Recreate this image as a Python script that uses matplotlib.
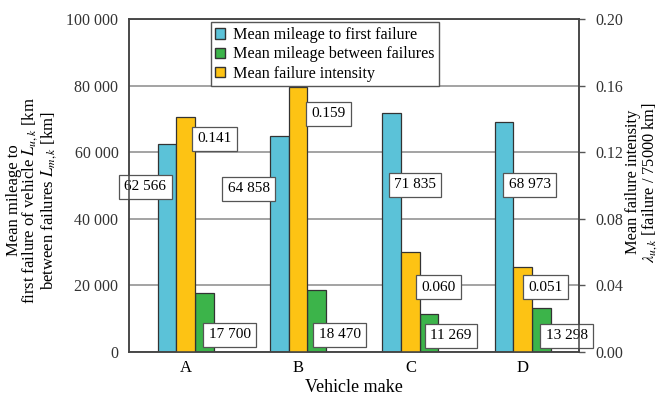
import numpy as np
import matplotlib.pyplot as plt
from matplotlib.ticker import FuncFormatter
from matplotlib.patches import Patch

plt.rcParams['font.family'] = ['Liberation Serif', 'DejaVu Serif']
plt.rcParams['mathtext.fontset'] = 'stix'

# Data
makes = ['A', 'B', 'C', 'D']
first_failure = [62566, 64858, 71835, 68973]      # km
between_failures = [17700, 18470, 11269, 13298]   # km
intensity = [0.141, 0.159, 0.060, 0.051]          # failure / 75000 km

# label placement (offset from group centre, y position)
blue_lbl_dx = [-0.36, -0.44, 0.04, 0.06]
blue_lbl_y = [49600, 49000, 50200, 50200]
yel_lbl_dx = [0.26, 0.27, 0.25, 0.20]
yel_lbl_y = [0.128, 0.143, 0.039, 0.039]
grn_lbl_dx = [0.39, 0.37, 0.36, 0.39]
grn_lbl_y = [5100, 5100, 4800, 4800]

c_blue = '#5bc2d8'
c_green = '#3cb44a'
c_yellow = '#fdc314'
edge = '#333333'

def km_fmt(v, pos):
    return f'{int(v):,}'.replace(',', ' ')

def lbl_km(v):
    return f'{v:,}'.replace(',', ' ')

fig = plt.figure(figsize=(6.62, 4.05), dpi=100)
ax1 = fig.add_axes([0.1956, 0.131, 0.679, 0.822])
ax2 = ax1.twinx()

x = np.arange(len(makes))
w = 0.166

ax1.bar(x - w, first_failure, w, color=c_blue, edgecolor=edge, linewidth=0.9, zorder=2)
ax1.bar(x + w, between_failures, w, color=c_green, edgecolor=edge, linewidth=0.9, zorder=2)
ax2.bar(x, intensity, w, color=c_yellow, edgecolor=edge, linewidth=0.9, zorder=2)

box = dict(boxstyle='square,pad=0.35', fc='white', ec='#555555', lw=0.9)
for i in range(len(makes)):
    ax1.text(x[i] + blue_lbl_dx[i], blue_lbl_y[i], lbl_km(first_failure[i]),
             ha='center', va='center', fontsize=11, bbox=box, zorder=5)
    ax1.text(x[i] + grn_lbl_dx[i], grn_lbl_y[i], lbl_km(between_failures[i]),
             ha='center', va='center', fontsize=11, bbox=box, zorder=5)
    ax2.text(x[i] + yel_lbl_dx[i], yel_lbl_y[i], f'{intensity[i]:.3f}',
             ha='center', va='center', fontsize=11, bbox=box, zorder=5)

ax1.set_xlim(-0.5, 3.5)
ax1.set_ylim(0, 100000)
ax2.set_ylim(0, 0.2)
ax1.set_yticks(np.arange(0, 100001, 20000))
ax2.set_yticks(np.arange(0, 0.201, 0.04))
ax1.yaxis.set_major_formatter(FuncFormatter(km_fmt))
ax2.yaxis.set_major_formatter(FuncFormatter(lambda v, p: f'{v:.2f}'))
ax1.set_xticks(x)
ax1.set_xticklabels(makes, fontsize=12)

ax1.grid(axis='y', color='#8a8a8a', linewidth=1.1)
ax1.set_axisbelow(True)
ax1.tick_params(axis='x', length=0, pad=6)
ax1.tick_params(axis='y', length=0, labelsize=11.5, pad=8, colors='#333333')
ax2.tick_params(axis='y', length=4, width=1, color='#555555', labelsize=11.5, pad=8, labelcolor='#333333')

for ax in (ax1, ax2):
    for s in ax.spines.values():
        s.set_color('#444444')
        s.set_linewidth(1.1)

ax1.set_xlabel('Vehicle make', fontsize=13, labelpad=2)
ax1.set_ylabel('Mean mileage to\nfirst failure of vehicle $L_{u,k}$ [km\nbetween failures $L_{m,k}$ [km]',
               fontsize=12, linespacing=0.9, va='center', ha='center')
ax1.yaxis.set_label_coords(-0.216, 0.456)
ax2.set_ylabel('Mean failure intensity\n$\\lambda_{u,k}$ [failure / 75000 km]',
               fontsize=11.8, linespacing=0.9, va='center', ha='center', rotation=90)
ax2.yaxis.set_label_coords(1.14, 0.51)

handles = [Patch(fc=c_blue, ec=edge), Patch(fc=c_green, ec=edge), Patch(fc=c_yellow, ec=edge)]
labels = ['Mean mileage to first failure', 'Mean mileage between failures', 'Mean failure intensity']
leg = ax2.legend(handles, labels, loc='upper center', bbox_to_anchor=(0.435, 0.99),
                 borderaxespad=0, fontsize=11.6, handlelength=0.6, handleheight=0.6,
                 handletextpad=0.5, labelspacing=0.2, fancybox=False, framealpha=1,
                 edgecolor='#555555', borderpad=0.3)
leg.get_frame().set_linewidth(1)

fig.savefig('out.png', dpi=100)
